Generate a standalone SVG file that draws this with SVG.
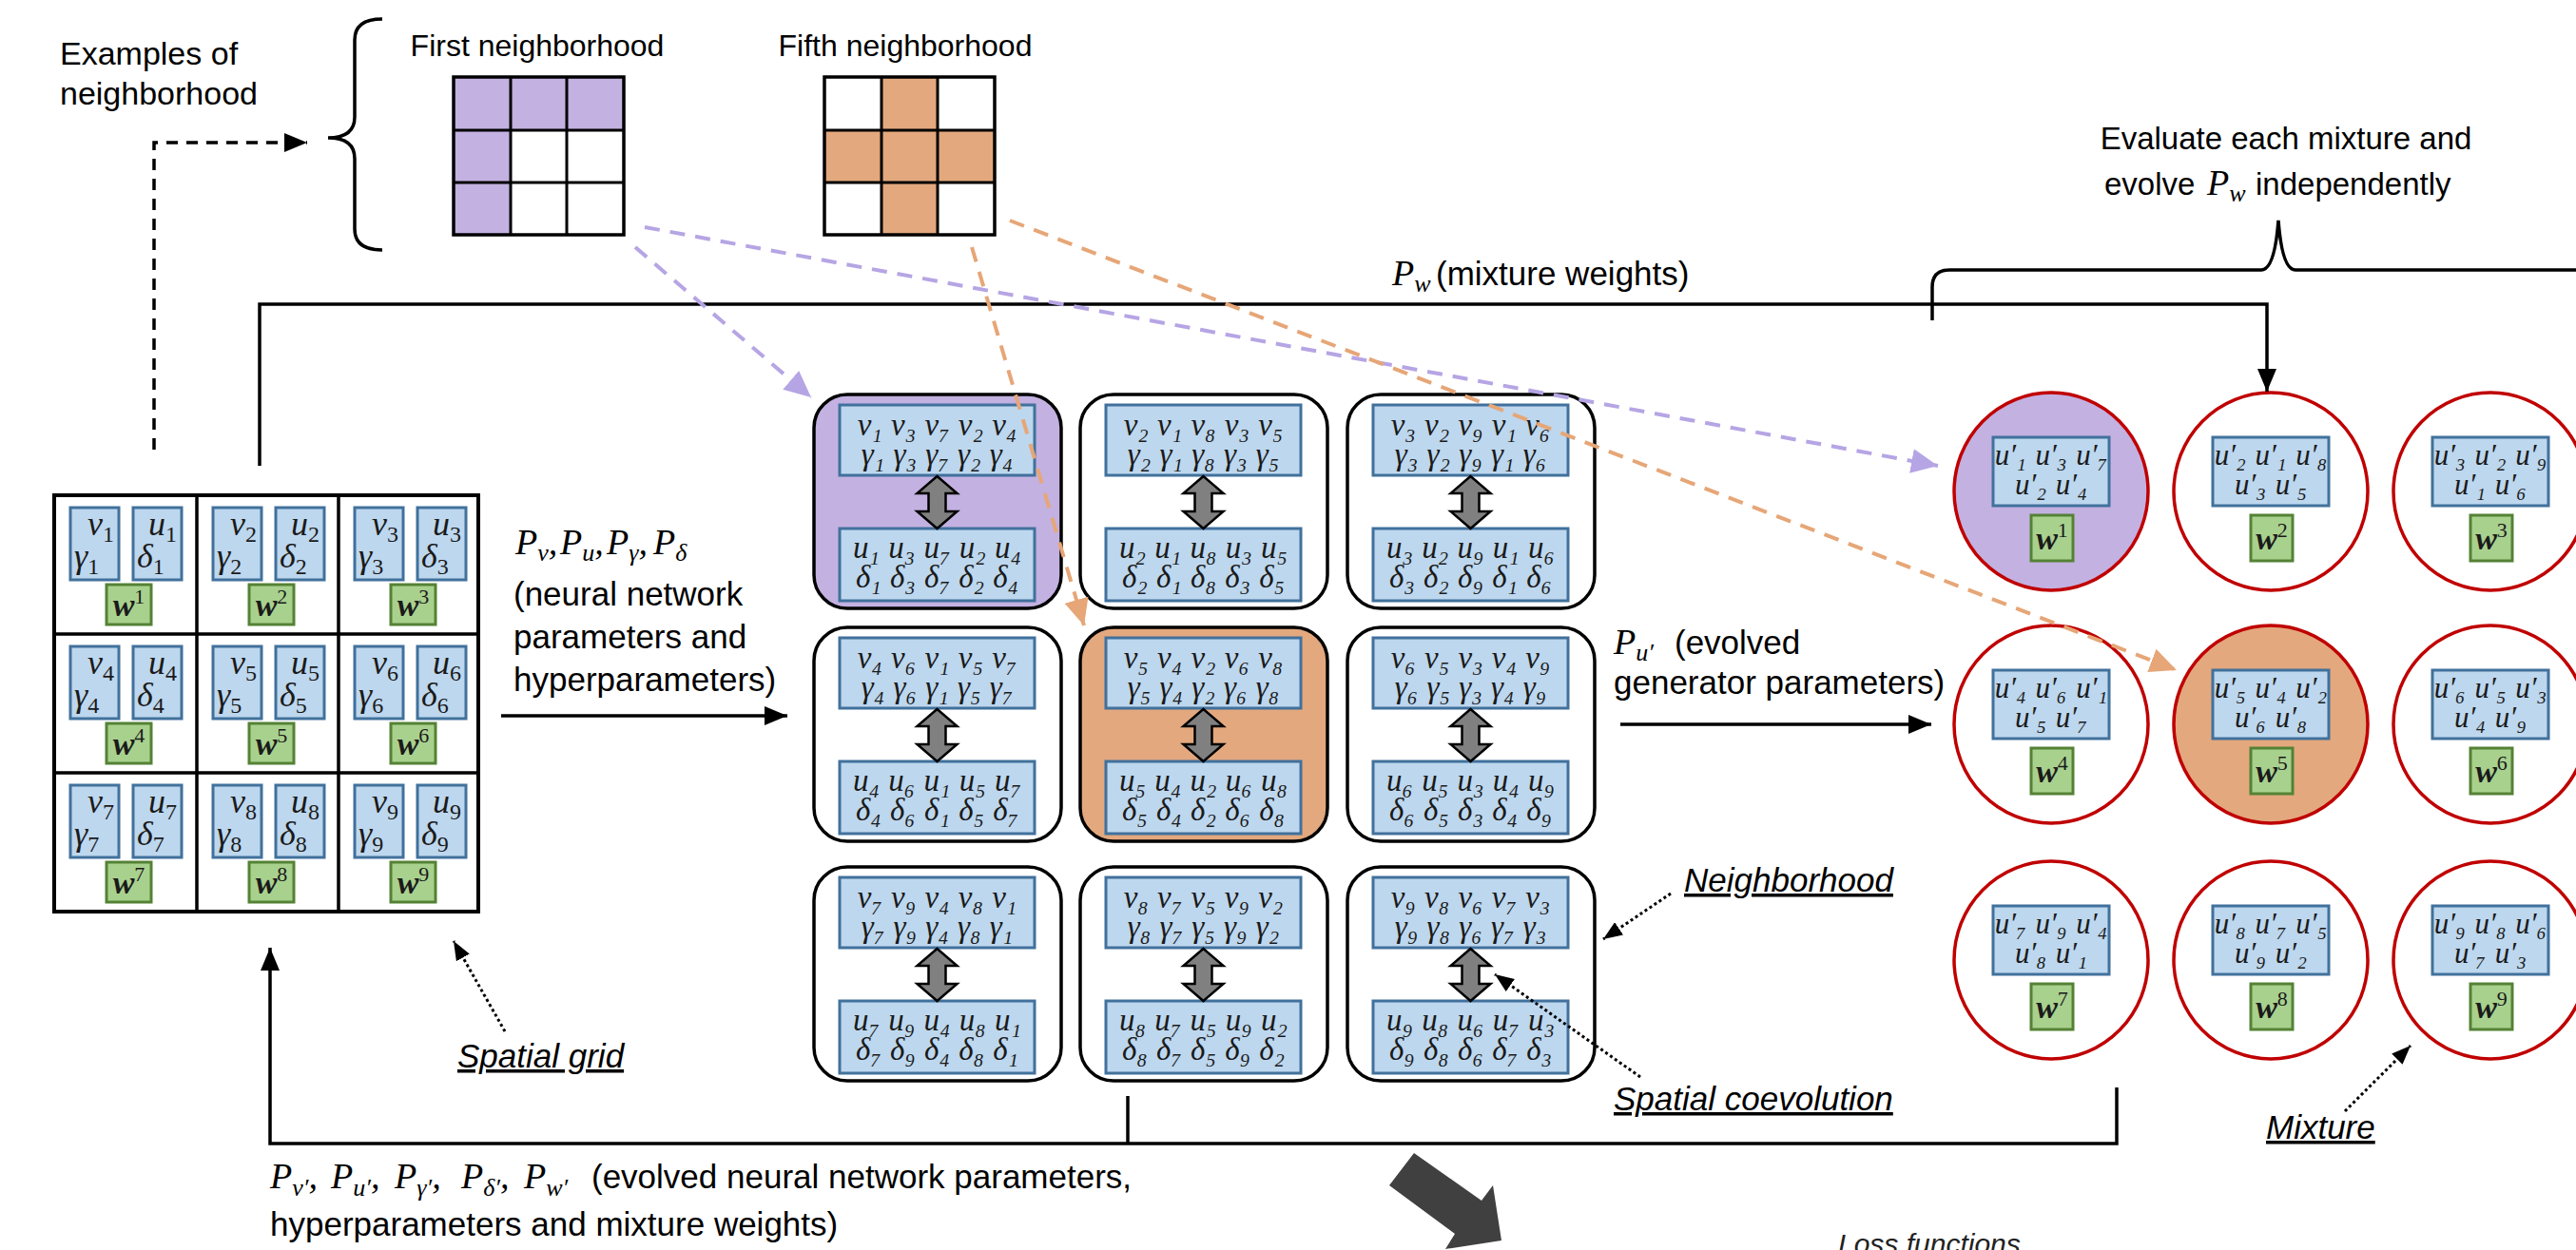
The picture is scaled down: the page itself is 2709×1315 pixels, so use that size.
<svg xmlns="http://www.w3.org/2000/svg" width="2709" height="1315" viewBox="0 0 2709 1315">
<defs>
<style>
.t{font-family:"Liberation Sans",Arial,sans-serif;font-size:35px;fill:#000}
.ti{font-family:"Liberation Sans",Arial,sans-serif;font-size:35px;font-style:italic;text-decoration:underline;fill:#000}
.m{font-family:"Liberation Serif","Times New Roman",serif;font-style:italic;font-size:32px;fill:#1a1a1a}
.mx{font-size:31px;word-spacing:2px}
.mn{font-size:33px;word-spacing:1px}
.mg{font-size:36px}
.sg{font-style:normal;font-size:24px}
.mp{font-family:"Liberation Serif","Times New Roman",serif;font-style:italic;font-size:38px}
.ms{font-size:26px}
.w{font-family:"Liberation Serif","Times New Roman",serif;font-style:italic;font-weight:bold;font-size:34px;fill:#1a1a1a}
.sup{font-style:normal;font-weight:normal;font-size:22px}
.blue{fill:#BDD7EE;stroke:#41719C;stroke-width:3}
.green{fill:#A9D18E;stroke:#548235;stroke-width:3}
.panel{fill:#fff;stroke:#000;stroke-width:3.5}
.ell{fill:#fff;stroke:#C00000;stroke-width:3.5}
.ln{fill:none;stroke:#000;stroke-width:3.5}
.gl{fill:none;stroke:#000;stroke-width:3}
.dash{fill:none;stroke:#000;stroke-width:3.5;stroke-dasharray:12 9}
.dot{fill:none;stroke:#000;stroke-width:3;stroke-dasharray:3 3}
.pd{fill:none;stroke:#B6A5E4;stroke-width:4;stroke-dasharray:16 11}
.od{fill:none;stroke:#E6A677;stroke-width:4;stroke-dasharray:16 11}
.darr{fill:#808080;stroke:#000;stroke-width:2.5}
.purple{fill:#C3B1E1}
.orange{fill:#E3A87E}
</style>
<marker id="ab" markerUnits="userSpaceOnUse" markerWidth="24" markerHeight="20" refX="24" refY="10" orient="auto" viewBox="0 0 24 20"><path d="M0,0 L24,10 L0,20 Z" fill="#000"/></marker>
<marker id="adot" markerUnits="userSpaceOnUse" markerWidth="20" markerHeight="16" refX="20" refY="8" orient="auto" viewBox="0 0 20 16"><path d="M0,0 L20,8 L0,16 Z" fill="#000"/></marker>
<marker id="ap" markerUnits="userSpaceOnUse" markerWidth="28" markerHeight="26" refX="28" refY="13" orient="auto" viewBox="0 0 28 26"><path d="M0,0 L28,13 L0,26 Z" fill="#B6A5E4"/></marker>
<marker id="ao" markerUnits="userSpaceOnUse" markerWidth="28" markerHeight="26" refX="28" refY="13" orient="auto" viewBox="0 0 28 26"><path d="M0,0 L28,13 L0,26 Z" fill="#E6A677"/></marker>
<path id="da" class="darr" d="M0,0 L21,18 L9,18 L9,37 L21,37 L0,55 L-21,37 L-9,37 L-9,18 L-21,18 Z"/>
</defs>
<rect width="2709" height="1315" fill="#fff"/>

<g id="labels">
<text class="t" style="font-size:34px"><tspan x="63" y="68">Examples of</tspan><tspan x="63" y="110">neighborhood</tspan></text>
<text class="t" style="font-size:32px" x="565" y="59" text-anchor="middle">First neighborhood</text>
<text class="t" style="font-size:32px" x="952" y="59" text-anchor="middle">Fifth neighborhood</text>
<text class="t" style="font-size:33px" x="2404" y="157" text-anchor="middle">Evaluate each mixture and</text>
<text class="t" style="font-size:33px" y="205"><tspan x="2213">evolve</tspan><tspan x="2321" class="mp">P</tspan><tspan class="mp ms" dy="7">w</tspan><tspan x="2372" dy="-7">independently</tspan></text>
<text class="t" y="300"><tspan x="1464" class="mp">P</tspan><tspan class="mp ms" dy="7">w</tspan><tspan x="1510" dy="-7">(mixture weights)</tspan></text>
<text class="t" y="583"><tspan x="542" class="mp">P</tspan><tspan class="mp ms" dy="7">v</tspan><tspan class="mp" dy="-7">,</tspan><tspan x="589" class="mp">P</tspan><tspan class="mp ms" dy="7">u</tspan><tspan class="mp" dy="-7">,</tspan><tspan x="638" class="mp">P</tspan><tspan class="mp ms" dy="7">γ</tspan><tspan class="mp" dy="-7">,</tspan><tspan x="687" class="mp">P</tspan><tspan class="mp ms" dy="7">δ</tspan></text>
<text class="t"><tspan x="540" y="637">(neural network</tspan><tspan x="540" y="682">parameters and</tspan><tspan x="540" y="727">hyperparameters)</tspan></text>
<text class="t"><tspan x="1697" y="688" class="mp">P</tspan><tspan class="mp ms" dy="7">u′</tspan><tspan x="1761" dy="-7">(evolved</tspan><tspan x="1697" y="730">generator parameters)</tspan></text>
<text class="t"><tspan x="284" y="1250" class="mp">P</tspan><tspan class="mp ms" dy="8">v′</tspan><tspan class="mp" dy="-8">,</tspan><tspan x="348" class="mp">P</tspan><tspan class="mp ms" dy="8">u′</tspan><tspan class="mp" dy="-8">,</tspan><tspan x="415" class="mp">P</tspan><tspan class="mp ms" dy="8">γ′</tspan><tspan class="mp" dy="-8">,</tspan><tspan x="485" class="mp">P</tspan><tspan class="mp ms" dy="8">δ′</tspan><tspan class="mp" dy="-8">,</tspan><tspan x="551" class="mp">P</tspan><tspan class="mp ms" dy="8">w′</tspan><tspan x="622" dy="-8">(evolved neural network parameters,</tspan><tspan x="284" y="1300">hyperparameters and mixture weights)</tspan></text>
<text class="ti" x="481" y="1123">Spatial grid</text>
<text class="ti" x="1771" y="938">Neighborhood</text>
<text class="ti" x="1697" y="1168">Spatial coevolution</text>
<text class="ti" x="2383" y="1198">Mixture</text>
<text class="t" style="font-size:30px;font-style:italic;fill:#222" x="1933" y="1319">Loss functions</text>
</g>

<g id="example-first">
<rect class="purple" x="477" y="81" width="179" height="56"/>
<rect class="purple" x="477" y="137" width="60" height="110"/>
<rect x="477" y="81" width="179" height="166" fill="none" stroke="#000" stroke-width="3.5"/>
<path class="gl" d="M537,81 V247 M596,81 V247 M477,137 H656 M477,192 H656"/>
</g>
<g id="example-fifth">
<rect class="orange" x="927" y="81" width="59" height="166"/>
<rect class="orange" x="867" y="137" width="179" height="55"/>
<rect x="867" y="81" width="179" height="166" fill="none" stroke="#000" stroke-width="3.5"/>
<path class="gl" d="M927,81 V247 M986,81 V247 M867,137 H1046 M867,192 H1046"/>
</g>

<g id="spatial-grid">
<rect x="57" y="521" width="446" height="438" fill="#fff" stroke="#000" stroke-width="4"/>
<path class="ln" d="M207,521 V959 M356,521 V959 M57,667 H503 M57,813 H503"/>
</g>
<g id="grid-cell-1"><rect class="blue" x="74" y="534" width="51" height="76"/><text class="m mg"><tspan x="92" y="563">v</tspan><tspan class="sg" dy="7">1</tspan><tspan x="78" y="597">γ</tspan><tspan class="sg" dy="7">1</tspan></text><rect class="blue" x="140" y="534" width="51" height="76"/><text class="m mg"><tspan x="156" y="563">u</tspan><tspan class="sg" dy="7">1</tspan><tspan x="144" y="597">δ</tspan><tspan class="sg" dy="7">1</tspan></text><rect class="green" x="112" y="615" width="47" height="42"/><text class="w" x="135.5" y="648" text-anchor="middle">w<tspan class="sup" dy="-13">1</tspan></text></g>
<g id="grid-cell-2"><rect class="blue" x="224" y="534" width="51" height="76"/><text class="m mg"><tspan x="242" y="563">v</tspan><tspan class="sg" dy="7">2</tspan><tspan x="228" y="597">γ</tspan><tspan class="sg" dy="7">2</tspan></text><rect class="blue" x="290" y="534" width="51" height="76"/><text class="m mg"><tspan x="306" y="563">u</tspan><tspan class="sg" dy="7">2</tspan><tspan x="294" y="597">δ</tspan><tspan class="sg" dy="7">2</tspan></text><rect class="green" x="262" y="615" width="47" height="42"/><text class="w" x="285.5" y="648" text-anchor="middle">w<tspan class="sup" dy="-13">2</tspan></text></g>
<g id="grid-cell-3"><rect class="blue" x="373" y="534" width="51" height="76"/><text class="m mg"><tspan x="391" y="563">v</tspan><tspan class="sg" dy="7">3</tspan><tspan x="377" y="597">γ</tspan><tspan class="sg" dy="7">3</tspan></text><rect class="blue" x="439" y="534" width="51" height="76"/><text class="m mg"><tspan x="455" y="563">u</tspan><tspan class="sg" dy="7">3</tspan><tspan x="443" y="597">δ</tspan><tspan class="sg" dy="7">3</tspan></text><rect class="green" x="411" y="615" width="47" height="42"/><text class="w" x="434.5" y="648" text-anchor="middle">w<tspan class="sup" dy="-13">3</tspan></text></g>
<g id="grid-cell-4"><rect class="blue" x="74" y="680" width="51" height="76"/><text class="m mg"><tspan x="92" y="709">v</tspan><tspan class="sg" dy="7">4</tspan><tspan x="78" y="743">γ</tspan><tspan class="sg" dy="7">4</tspan></text><rect class="blue" x="140" y="680" width="51" height="76"/><text class="m mg"><tspan x="156" y="709">u</tspan><tspan class="sg" dy="7">4</tspan><tspan x="144" y="743">δ</tspan><tspan class="sg" dy="7">4</tspan></text><rect class="green" x="112" y="761" width="47" height="42"/><text class="w" x="135.5" y="794" text-anchor="middle">w<tspan class="sup" dy="-13">4</tspan></text></g>
<g id="grid-cell-5"><rect class="blue" x="224" y="680" width="51" height="76"/><text class="m mg"><tspan x="242" y="709">v</tspan><tspan class="sg" dy="7">5</tspan><tspan x="228" y="743">γ</tspan><tspan class="sg" dy="7">5</tspan></text><rect class="blue" x="290" y="680" width="51" height="76"/><text class="m mg"><tspan x="306" y="709">u</tspan><tspan class="sg" dy="7">5</tspan><tspan x="294" y="743">δ</tspan><tspan class="sg" dy="7">5</tspan></text><rect class="green" x="262" y="761" width="47" height="42"/><text class="w" x="285.5" y="794" text-anchor="middle">w<tspan class="sup" dy="-13">5</tspan></text></g>
<g id="grid-cell-6"><rect class="blue" x="373" y="680" width="51" height="76"/><text class="m mg"><tspan x="391" y="709">v</tspan><tspan class="sg" dy="7">6</tspan><tspan x="377" y="743">γ</tspan><tspan class="sg" dy="7">6</tspan></text><rect class="blue" x="439" y="680" width="51" height="76"/><text class="m mg"><tspan x="455" y="709">u</tspan><tspan class="sg" dy="7">6</tspan><tspan x="443" y="743">δ</tspan><tspan class="sg" dy="7">6</tspan></text><rect class="green" x="411" y="761" width="47" height="42"/><text class="w" x="434.5" y="794" text-anchor="middle">w<tspan class="sup" dy="-13">6</tspan></text></g>
<g id="grid-cell-7"><rect class="blue" x="74" y="826" width="51" height="76"/><text class="m mg"><tspan x="92" y="855">v</tspan><tspan class="sg" dy="7">7</tspan><tspan x="78" y="889">γ</tspan><tspan class="sg" dy="7">7</tspan></text><rect class="blue" x="140" y="826" width="51" height="76"/><text class="m mg"><tspan x="156" y="855">u</tspan><tspan class="sg" dy="7">7</tspan><tspan x="144" y="889">δ</tspan><tspan class="sg" dy="7">7</tspan></text><rect class="green" x="112" y="907" width="47" height="42"/><text class="w" x="135.5" y="940" text-anchor="middle">w<tspan class="sup" dy="-13">7</tspan></text></g>
<g id="grid-cell-8"><rect class="blue" x="224" y="826" width="51" height="76"/><text class="m mg"><tspan x="242" y="855">v</tspan><tspan class="sg" dy="7">8</tspan><tspan x="228" y="889">γ</tspan><tspan class="sg" dy="7">8</tspan></text><rect class="blue" x="290" y="826" width="51" height="76"/><text class="m mg"><tspan x="306" y="855">u</tspan><tspan class="sg" dy="7">8</tspan><tspan x="294" y="889">δ</tspan><tspan class="sg" dy="7">8</tspan></text><rect class="green" x="262" y="907" width="47" height="42"/><text class="w" x="285.5" y="940" text-anchor="middle">w<tspan class="sup" dy="-13">8</tspan></text></g>
<g id="grid-cell-9"><rect class="blue" x="373" y="826" width="51" height="76"/><text class="m mg"><tspan x="391" y="855">v</tspan><tspan class="sg" dy="7">9</tspan><tspan x="377" y="889">γ</tspan><tspan class="sg" dy="7">9</tspan></text><rect class="blue" x="439" y="826" width="51" height="76"/><text class="m mg"><tspan x="455" y="855">u</tspan><tspan class="sg" dy="7">9</tspan><tspan x="443" y="889">δ</tspan><tspan class="sg" dy="7">9</tspan></text><rect class="green" x="411" y="907" width="47" height="42"/><text class="w" x="434.5" y="940" text-anchor="middle">w<tspan class="sup" dy="-13">9</tspan></text></g>

<g id="panel-1">
<rect class="panel" x="856" y="415" width="260" height="225" rx="35" style="fill:#C3B1E1"/>
<rect class="blue" x="883" y="426" width="205" height="74"/>
<rect class="blue" x="883" y="556" width="205" height="76"/>
<use href="#da" x="985.5" y="501"/>
<text class="m mn" text-anchor="middle"><tspan x="985.5" y="458">v₁ v₃ v₇ v₂ v₄</tspan><tspan x="985.5" y="489">γ₁ γ₃ γ₇ γ₂ γ₄</tspan></text>
<text class="m mn" text-anchor="middle"><tspan x="985.5" y="587">u₁ u₃ u₇ u₂ u₄</tspan><tspan x="985.5" y="618">δ₁ δ₃ δ₇ δ₂ δ₄</tspan></text>
</g>
<g id="panel-2">
<rect class="panel" x="1136" y="415" width="260" height="225" rx="35"/>
<rect class="blue" x="1163" y="426" width="205" height="74"/>
<rect class="blue" x="1163" y="556" width="205" height="76"/>
<use href="#da" x="1265.5" y="501"/>
<text class="m mn" text-anchor="middle"><tspan x="1265.5" y="458">v₂ v₁ v₈ v₃ v₅</tspan><tspan x="1265.5" y="489">γ₂ γ₁ γ₈ γ₃ γ₅</tspan></text>
<text class="m mn" text-anchor="middle"><tspan x="1265.5" y="587">u₂ u₁ u₈ u₃ u₅</tspan><tspan x="1265.5" y="618">δ₂ δ₁ δ₈ δ₃ δ₅</tspan></text>
</g>
<g id="panel-3">
<rect class="panel" x="1417" y="415" width="260" height="225" rx="35"/>
<rect class="blue" x="1444" y="426" width="205" height="74"/>
<rect class="blue" x="1444" y="556" width="205" height="76"/>
<use href="#da" x="1546.5" y="501"/>
<text class="m mn" text-anchor="middle"><tspan x="1546.5" y="458">v₃ v₂ v₉ v₁ v₆</tspan><tspan x="1546.5" y="489">γ₃ γ₂ γ₉ γ₁ γ₆</tspan></text>
<text class="m mn" text-anchor="middle"><tspan x="1546.5" y="587">u₃ u₂ u₉ u₁ u₆</tspan><tspan x="1546.5" y="618">δ₃ δ₂ δ₉ δ₁ δ₆</tspan></text>
</g>
<g id="panel-4">
<rect class="panel" x="856" y="660" width="260" height="225" rx="35"/>
<rect class="blue" x="883" y="671" width="205" height="74"/>
<rect class="blue" x="883" y="801" width="205" height="76"/>
<use href="#da" x="985.5" y="746"/>
<text class="m mn" text-anchor="middle"><tspan x="985.5" y="703">v₄ v₆ v₁ v₅ v₇</tspan><tspan x="985.5" y="734">γ₄ γ₆ γ₁ γ₅ γ₇</tspan></text>
<text class="m mn" text-anchor="middle"><tspan x="985.5" y="832">u₄ u₆ u₁ u₅ u₇</tspan><tspan x="985.5" y="863">δ₄ δ₆ δ₁ δ₅ δ₇</tspan></text>
</g>
<g id="panel-5">
<rect class="panel" x="1136" y="660" width="260" height="225" rx="35" style="fill:#E3A87E"/>
<rect class="blue" x="1163" y="671" width="205" height="74"/>
<rect class="blue" x="1163" y="801" width="205" height="76"/>
<use href="#da" x="1265.5" y="746"/>
<text class="m mn" text-anchor="middle"><tspan x="1265.5" y="703">v₅ v₄ v₂ v₆ v₈</tspan><tspan x="1265.5" y="734">γ₅ γ₄ γ₂ γ₆ γ₈</tspan></text>
<text class="m mn" text-anchor="middle"><tspan x="1265.5" y="832">u₅ u₄ u₂ u₆ u₈</tspan><tspan x="1265.5" y="863">δ₅ δ₄ δ₂ δ₆ δ₈</tspan></text>
</g>
<g id="panel-6">
<rect class="panel" x="1417" y="660" width="260" height="225" rx="35"/>
<rect class="blue" x="1444" y="671" width="205" height="74"/>
<rect class="blue" x="1444" y="801" width="205" height="76"/>
<use href="#da" x="1546.5" y="746"/>
<text class="m mn" text-anchor="middle"><tspan x="1546.5" y="703">v₆ v₅ v₃ v₄ v₉</tspan><tspan x="1546.5" y="734">γ₆ γ₅ γ₃ γ₄ γ₉</tspan></text>
<text class="m mn" text-anchor="middle"><tspan x="1546.5" y="832">u₆ u₅ u₃ u₄ u₉</tspan><tspan x="1546.5" y="863">δ₆ δ₅ δ₃ δ₄ δ₉</tspan></text>
</g>
<g id="panel-7">
<rect class="panel" x="856" y="912" width="260" height="225" rx="35"/>
<rect class="blue" x="883" y="923" width="205" height="74"/>
<rect class="blue" x="883" y="1053" width="205" height="76"/>
<use href="#da" x="985.5" y="998"/>
<text class="m mn" text-anchor="middle"><tspan x="985.5" y="955">v₇ v₉ v₄ v₈ v₁</tspan><tspan x="985.5" y="986">γ₇ γ₉ γ₄ γ₈ γ₁</tspan></text>
<text class="m mn" text-anchor="middle"><tspan x="985.5" y="1084">u₇ u₉ u₄ u₈ u₁</tspan><tspan x="985.5" y="1115">δ₇ δ₉ δ₄ δ₈ δ₁</tspan></text>
</g>
<g id="panel-8">
<rect class="panel" x="1136" y="912" width="260" height="225" rx="35"/>
<rect class="blue" x="1163" y="923" width="205" height="74"/>
<rect class="blue" x="1163" y="1053" width="205" height="76"/>
<use href="#da" x="1265.5" y="998"/>
<text class="m mn" text-anchor="middle"><tspan x="1265.5" y="955">v₈ v₇ v₅ v₉ v₂</tspan><tspan x="1265.5" y="986">γ₈ γ₇ γ₅ γ₉ γ₂</tspan></text>
<text class="m mn" text-anchor="middle"><tspan x="1265.5" y="1084">u₈ u₇ u₅ u₉ u₂</tspan><tspan x="1265.5" y="1115">δ₈ δ₇ δ₅ δ₉ δ₂</tspan></text>
</g>
<g id="panel-9">
<rect class="panel" x="1417" y="912" width="260" height="225" rx="35"/>
<rect class="blue" x="1444" y="923" width="205" height="74"/>
<rect class="blue" x="1444" y="1053" width="205" height="76"/>
<use href="#da" x="1546.5" y="998"/>
<text class="m mn" text-anchor="middle"><tspan x="1546.5" y="955">v₉ v₈ v₆ v₇ v₃</tspan><tspan x="1546.5" y="986">γ₉ γ₈ γ₆ γ₇ γ₃</tspan></text>
<text class="m mn" text-anchor="middle"><tspan x="1546.5" y="1084">u₉ u₈ u₆ u₇ u₃</tspan><tspan x="1546.5" y="1115">δ₉ δ₈ δ₆ δ₇ δ₃</tspan></text>
</g>

<g id="mix-1"><ellipse class="ell" cx="2157" cy="517" rx="102" ry="104" style="fill:#C3B1E1"/><rect class="blue" x="2096" y="460" width="122" height="72"/><text class="m mx" text-anchor="middle"><tspan x="2157" y="489">u′₁ u′₃ u′₇</tspan><tspan x="2157" y="520">u′₂ u′₄</tspan></text><rect class="green" x="2136" y="542" width="44" height="48"/><text class="w" x="2158" y="578" text-anchor="middle">w<tspan class="sup" dy="-13">1</tspan></text></g>
<g id="mix-2"><ellipse class="ell" cx="2388" cy="517" rx="102" ry="104"/><rect class="blue" x="2327" y="460" width="122" height="72"/><text class="m mx" text-anchor="middle"><tspan x="2388" y="489">u′₂ u′₁ u′₈</tspan><tspan x="2388" y="520">u′₃ u′₅</tspan></text><rect class="green" x="2367" y="542" width="44" height="48"/><text class="w" x="2389" y="578" text-anchor="middle">w<tspan class="sup" dy="-13">2</tspan></text></g>
<g id="mix-3"><ellipse class="ell" cx="2619" cy="517" rx="102" ry="104"/><rect class="blue" x="2558" y="460" width="122" height="72"/><text class="m mx" text-anchor="middle"><tspan x="2619" y="489">u′₃ u′₂ u′₉</tspan><tspan x="2619" y="520">u′₁ u′₆</tspan></text><rect class="green" x="2598" y="542" width="44" height="48"/><text class="w" x="2620" y="578" text-anchor="middle">w<tspan class="sup" dy="-13">3</tspan></text></g>
<g id="mix-4"><ellipse class="ell" cx="2157" cy="762" rx="102" ry="104"/><rect class="blue" x="2096" y="705" width="122" height="72"/><text class="m mx" text-anchor="middle"><tspan x="2157" y="734">u′₄ u′₆ u′₁</tspan><tspan x="2157" y="765">u′₅ u′₇</tspan></text><rect class="green" x="2136" y="787" width="44" height="48"/><text class="w" x="2158" y="823" text-anchor="middle">w<tspan class="sup" dy="-13">4</tspan></text></g>
<g id="mix-5"><ellipse class="ell" cx="2388" cy="762" rx="102" ry="104" style="fill:#E3A87E"/><rect class="blue" x="2327" y="705" width="122" height="72"/><text class="m mx" text-anchor="middle"><tspan x="2388" y="734">u′₅ u′₄ u′₂</tspan><tspan x="2388" y="765">u′₆ u′₈</tspan></text><rect class="green" x="2367" y="787" width="44" height="48"/><text class="w" x="2389" y="823" text-anchor="middle">w<tspan class="sup" dy="-13">5</tspan></text></g>
<g id="mix-6"><ellipse class="ell" cx="2619" cy="762" rx="102" ry="104"/><rect class="blue" x="2558" y="705" width="122" height="72"/><text class="m mx" text-anchor="middle"><tspan x="2619" y="734">u′₆ u′₅ u′₃</tspan><tspan x="2619" y="765">u′₄ u′₉</tspan></text><rect class="green" x="2598" y="787" width="44" height="48"/><text class="w" x="2620" y="823" text-anchor="middle">w<tspan class="sup" dy="-13">6</tspan></text></g>
<g id="mix-7"><ellipse class="ell" cx="2157" cy="1010" rx="102" ry="104"/><rect class="blue" x="2096" y="953" width="122" height="72"/><text class="m mx" text-anchor="middle"><tspan x="2157" y="982">u′₇ u′₉ u′₄</tspan><tspan x="2157" y="1013">u′₈ u′₁</tspan></text><rect class="green" x="2136" y="1035" width="44" height="48"/><text class="w" x="2158" y="1071" text-anchor="middle">w<tspan class="sup" dy="-13">7</tspan></text></g>
<g id="mix-8"><ellipse class="ell" cx="2388" cy="1010" rx="102" ry="104"/><rect class="blue" x="2327" y="953" width="122" height="72"/><text class="m mx" text-anchor="middle"><tspan x="2388" y="982">u′₈ u′₇ u′₅</tspan><tspan x="2388" y="1013">u′₉ u′₂</tspan></text><rect class="green" x="2367" y="1035" width="44" height="48"/><text class="w" x="2389" y="1071" text-anchor="middle">w<tspan class="sup" dy="-13">8</tspan></text></g>
<g id="mix-9"><ellipse class="ell" cx="2619" cy="1010" rx="102" ry="104"/><rect class="blue" x="2558" y="953" width="122" height="72"/><text class="m mx" text-anchor="middle"><tspan x="2619" y="982">u′₉ u′₈ u′₆</tspan><tspan x="2619" y="1013">u′₇ u′₃</tspan></text><rect class="green" x="2598" y="1035" width="44" height="48"/><text class="w" x="2620" y="1071" text-anchor="middle">w<tspan class="sup" dy="-13">9</tspan></text></g>

<g id="connectors">
<path class="ln" d="M402,20 Q373,20 373,42 L373,123 Q373,145 345,145 Q373,145 373,167 L373,241 Q373,263 402,263"/>
<path class="ln" d="M2032,337 L2032,302 Q2032,284 2050,284 L2378,284 Q2392,284 2396,232 Q2400,284 2414,284 L2709,284"/>
<path class="dash" d="M162,473 V150 H323" marker-end="url(#ab)"/>
<path class="ln" d="M273,490 V320 H2384 V412" marker-end="url(#ab)"/>
<path class="ln" d="M527,753 H828" marker-end="url(#ab)"/>
<path class="ln" d="M1704,762 H2031" marker-end="url(#ab)"/>
<path class="ln" d="M2226,1144 V1203 H284 V997" marker-end="url(#ab)"/>
<path class="ln" d="M1186,1153 V1203"/>
<path class="dot" d="M531,1085 L477,990" marker-end="url(#adot)"/>
<path class="dot" d="M1757,940 L1686,988" marker-end="url(#adot)"/>
<path class="dot" d="M1725,1133 L1572,1025" marker-end="url(#adot)"/>
<path class="dot" d="M2466,1169 L2535,1100" marker-end="url(#adot)"/>
<path class="pd" d="M668,260 L853,418" marker-end="url(#ap)"/>
<path class="pd" d="M678,239 L2038,490" marker-end="url(#ap)"/>
<path class="od" d="M1022,260 L1140,658" marker-end="url(#ao)"/>
<path class="od" d="M1062,232 L2289,705" marker-end="url(#ao)"/>
<path d="M1487,1213 L1558,1263 L1570,1247 L1579,1305 L1520,1314 L1530,1298 L1461,1247 Z" fill="#404040"/>
</g>
</svg>
